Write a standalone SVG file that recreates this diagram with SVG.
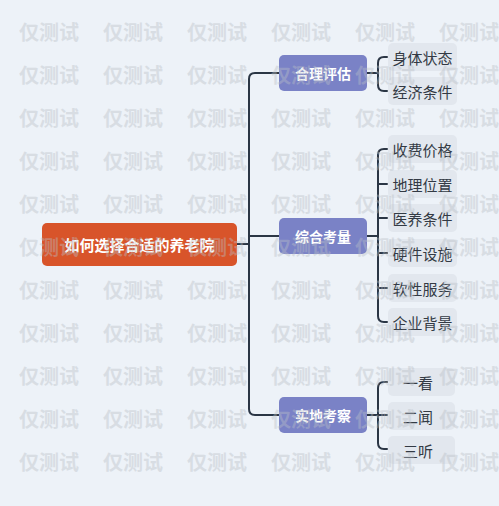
<svg xmlns="http://www.w3.org/2000/svg" width="499" height="506" viewBox="0 0 499 506">
<style>
.root{fill:#d8542a}
.branch{fill:#7a82c6}
.leafbox{fill:#e2e7ee}
.t{font-family:"Noto Sans CJK SC","Noto Sans",sans-serif;text-anchor:middle;dominant-baseline:central}
.rt{font-size:15px;font-weight:bold;fill:#ffffff}
.bt{font-size:14px;font-weight:bold;fill:#ffffff}
.lt{font-size:15px;fill:#333a44}
.ln{fill:none;stroke:#2b3645;stroke-width:2;stroke-linecap:round}
.wm{font-family:"Noto Sans CJK SC",sans-serif;font-size:20px;font-weight:bold;fill:#b9bfc6;opacity:0.4}
</style>
<rect width="499" height="506" fill="#edf2f8"/>
<g id="connectors">
<path class="ln" d="M237,244 H249"/>
<path class="ln" d="M279,73 H255 Q249,73 249,79 V409 Q249,415 255,415 H279"/>
<path class="ln" d="M249,236 H279"/>
<path class="ln" d="M367,73 H378"/>
<path class="ln" d="M387,57 H384 Q378,57 378,63 V85 Q378,91 384,91 H387"/>
<path class="ln" d="M367,236 H378"/>
<path class="ln" d="M387,149 H384 Q378,149 378,155 V316 Q378,322 384,322 H387"/>
<path class="ln" d="M378,184 H387 M378,218 H387 M378,253 H387 M378,288 H387"/>
<path class="ln" d="M367,415 H387"/>
<path class="ln" d="M387,382 H384 Q378,382 378,388 V443 Q378,449 384,449 H387"/>
</g>
<g id="root">
<rect class="root" x="42" y="223" width="195" height="43" rx="5"/>
<text class="t rt" x="139.5" y="244.5">如何选择合适的养老院</text>
</g>
<g id="n1">
<rect class="branch" x="279" y="55" width="88" height="36" rx="5"/>
<text class="t bt" x="323" y="73">合理评估</text>
</g>
<g id="n2">
<rect class="branch" x="279" y="218" width="88" height="36" rx="5"/>
<text class="t bt" x="323" y="236">综合考量</text>
</g>
<g id="n3">
<rect class="branch" x="279" y="397" width="88" height="36" rx="5"/>
<text class="t bt" x="323" y="415">实地考察</text>
</g>
<g id="l1"><rect class="leafbox" x="388" y="43" width="69" height="28" rx="5"/><text class="t lt" x="422.5" y="57">身体状态</text></g>
<g id="l2"><rect class="leafbox" x="388" y="77" width="69" height="28" rx="5"/><text class="t lt" x="422.5" y="91">经济条件</text></g>
<g id="l3"><rect class="leafbox" x="388" y="135" width="69" height="28" rx="5"/><text class="t lt" x="422.5" y="149">收费价格</text></g>
<g id="l4"><rect class="leafbox" x="388" y="170" width="69" height="28" rx="5"/><text class="t lt" x="422.5" y="184">地理位置</text></g>
<g id="l5"><rect class="leafbox" x="388" y="204" width="69" height="28" rx="5"/><text class="t lt" x="422.5" y="218">医养条件</text></g>
<g id="l6"><rect class="leafbox" x="388" y="239" width="69" height="28" rx="5"/><text class="t lt" x="422.5" y="253">硬件设施</text></g>
<g id="l7"><rect class="leafbox" x="388" y="274" width="69" height="28" rx="5"/><text class="t lt" x="422.5" y="288">软性服务</text></g>
<g id="l8"><rect class="leafbox" x="388" y="308" width="69" height="28" rx="5"/><text class="t lt" x="422.5" y="322">企业背景</text></g>
<g id="l9"><rect class="leafbox" x="388" y="368" width="67" height="28" rx="5"/><text class="t lt" x="418" y="382">一看</text></g>
<g id="l10"><rect class="leafbox" x="388" y="402" width="67" height="28" rx="5"/><text class="t lt" x="418" y="416">二闻</text></g>
<g id="l11"><rect class="leafbox" x="388" y="436" width="67" height="28" rx="5"/><text class="t lt" x="418" y="450">三听</text></g>
<g id="watermark" class="wm">
<text x="19" y="40">仅测试</text><text x="103" y="40">仅测试</text><text x="187" y="40">仅测试</text><text x="271" y="40">仅测试</text><text x="355" y="40">仅测试</text><text x="439" y="40">仅测试</text>
<text x="19" y="83">仅测试</text><text x="103" y="83">仅测试</text><text x="187" y="83">仅测试</text><text x="271" y="83">仅测试</text><text x="355" y="83">仅测试</text><text x="439" y="83">仅测试</text>
<text x="19" y="126">仅测试</text><text x="103" y="126">仅测试</text><text x="187" y="126">仅测试</text><text x="271" y="126">仅测试</text><text x="355" y="126">仅测试</text><text x="439" y="126">仅测试</text>
<text x="19" y="169">仅测试</text><text x="103" y="169">仅测试</text><text x="187" y="169">仅测试</text><text x="271" y="169">仅测试</text><text x="355" y="169">仅测试</text><text x="439" y="169">仅测试</text>
<text x="19" y="212">仅测试</text><text x="103" y="212">仅测试</text><text x="187" y="212">仅测试</text><text x="271" y="212">仅测试</text><text x="355" y="212">仅测试</text><text x="439" y="212">仅测试</text>
<text x="19" y="255">仅测试</text><text x="103" y="255">仅测试</text><text x="187" y="255">仅测试</text><text x="271" y="255">仅测试</text><text x="355" y="255">仅测试</text><text x="439" y="255">仅测试</text>
<text x="19" y="298">仅测试</text><text x="103" y="298">仅测试</text><text x="187" y="298">仅测试</text><text x="271" y="298">仅测试</text><text x="355" y="298">仅测试</text><text x="439" y="298">仅测试</text>
<text x="19" y="341">仅测试</text><text x="103" y="341">仅测试</text><text x="187" y="341">仅测试</text><text x="271" y="341">仅测试</text><text x="355" y="341">仅测试</text><text x="439" y="341">仅测试</text>
<text x="19" y="384">仅测试</text><text x="103" y="384">仅测试</text><text x="187" y="384">仅测试</text><text x="271" y="384">仅测试</text><text x="355" y="384">仅测试</text><text x="439" y="384">仅测试</text>
<text x="19" y="427">仅测试</text><text x="103" y="427">仅测试</text><text x="187" y="427">仅测试</text><text x="271" y="427">仅测试</text><text x="355" y="427">仅测试</text><text x="439" y="427">仅测试</text>
<text x="19" y="470">仅测试</text><text x="103" y="470">仅测试</text><text x="187" y="470">仅测试</text><text x="271" y="470">仅测试</text><text x="355" y="470">仅测试</text><text x="439" y="470">仅测试</text>
</g>
</svg>
